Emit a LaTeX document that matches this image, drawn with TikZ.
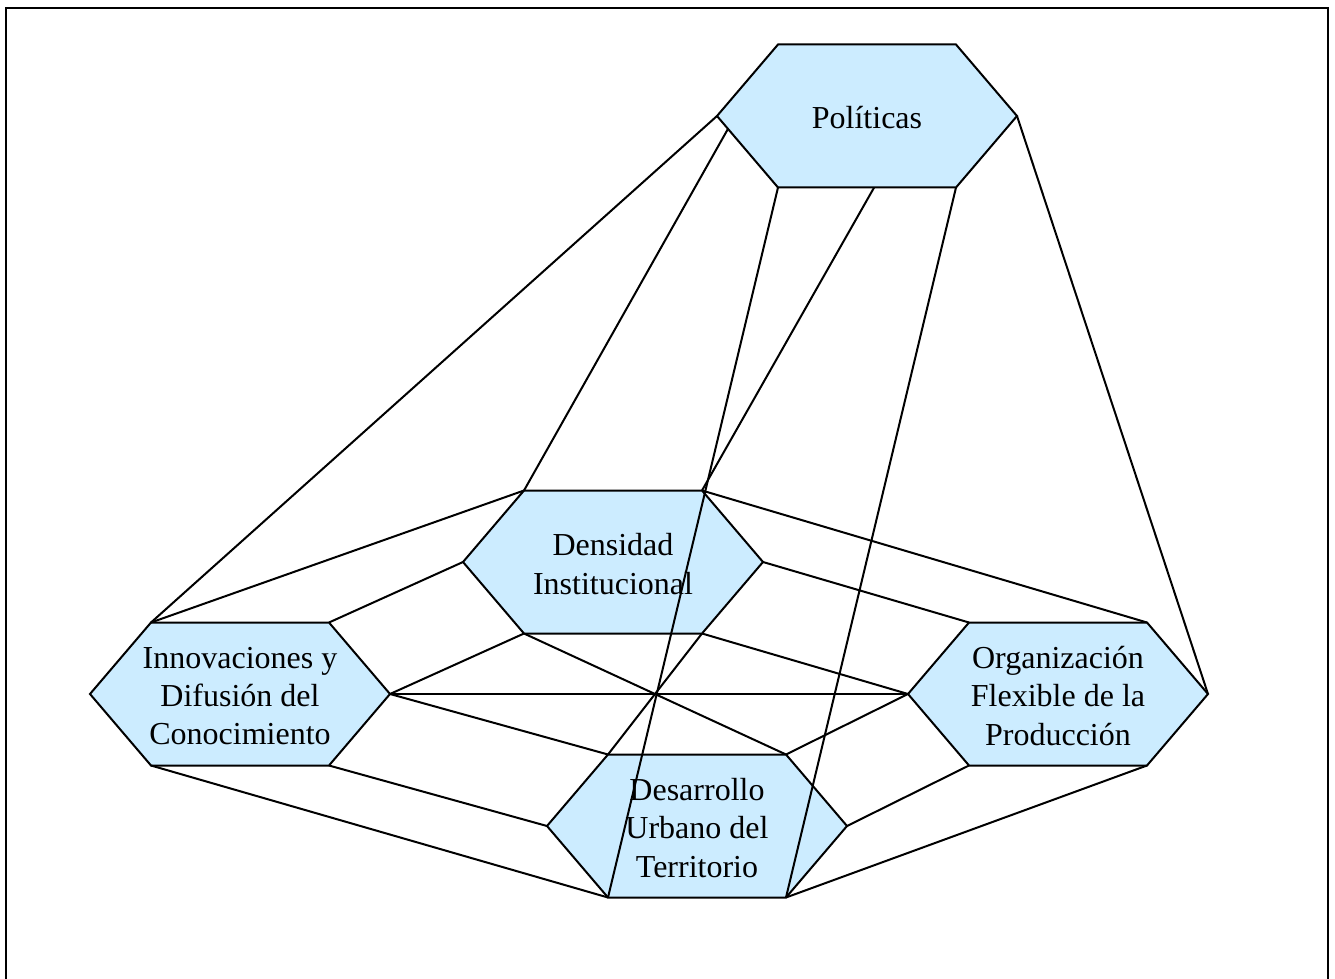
\documentclass[tikz,border=0pt]{standalone}
\usepackage{fontspec}
\setmainfont{Liberation Serif}
\usetikzlibrary{calc}
\definecolor{hexfill}{RGB}{204,236,255}
\tikzset{
  hexshape/.style={draw=black, line width=1pt, fill=hexfill, line join=miter},
  hexlabel/.style={align=center, inner sep=0pt, font=\fontsize{16}{19.2}\selectfont},
  link/.style={draw=black, line width=1pt},
  frame/.style={draw=black, line width=1.2pt}
}
\newcommand{\myhex}[4]{%
  \coordinate (#1-l)  at ({#2-150},{#3});
  \coordinate (#1-tl) at ({#2-89},{#3-71.5});
  \coordinate (#1-tr) at ({#2+89},{#3-71.5});
  \coordinate (#1-r)  at ({#2+150},{#3});
  \coordinate (#1-br) at ({#2+89},{#3+71.5});
  \coordinate (#1-bl) at ({#2-89},{#3+71.5});
  \path[hexshape] (#1-l) -- (#1-tl) -- (#1-tr) -- (#1-r) -- (#1-br) -- (#1-bl) -- cycle;
  \node[hexlabel] (#1) at (#2,{#3+2}) {#4};
}
\begin{document}
\begin{tikzpicture}[x=0.5pt,y=-0.5pt]
\useasboundingbox (0,0) rectangle (1335,979);
\draw[frame] (6,979) -- (6,8) -- (1328,8) -- (1328,979);

\myhex{pol}{867}{116}{Políticas}
\myhex{den}{613}{562}{Densidad\\Institucional}
\myhex{inn}{240}{694}{Innovaciones y\\Difusión del\\Conocimiento}
\myhex{org}{1058}{694}{Organización\\Flexible de la\\Producción}
\myhex{des}{697}{826}{Desarrollo\\Urbano del\\Territorio}

\coordinate (polA) at ($(pol-l)!0.18!(pol-bl)$);
\coordinate (polB) at ($(pol-bl)!0.54!(pol-br)$);

\path[link] (pol-l) -- (inn-tl);
\path[link] (polA) -- (den-tl);
\path[link] (pol-bl) -- (des-bl);
\path[link] (polB) -- (den-tr);
\path[link] (pol-br) -- (des-br);
\path[link] (pol-r) -- (org-r);
\path[link] (den-tl) -- (inn-tl);
\path[link] (den-l) -- (inn-tr);
\path[link] (den-bl) -- (inn-r);
\path[link] (den-bl) -- (des-tr);
\path[link] (den-br) -- (des-tl);
\path[link] (den-br) -- (org-l);
\path[link] (den-r) -- (org-tl);
\path[link] (den-tr) -- (org-tr);
\path[link] (inn-r) -- (org-l);
\path[link] (inn-r) -- (des-tl);
\path[link] (org-l) -- (des-tr);
\path[link] (inn-bl) -- (des-bl);
\path[link] (inn-br) -- (des-l);
\path[link] (org-bl) -- (des-r);
\path[link] (org-br) -- (des-br);
\end{tikzpicture}
\end{document}
